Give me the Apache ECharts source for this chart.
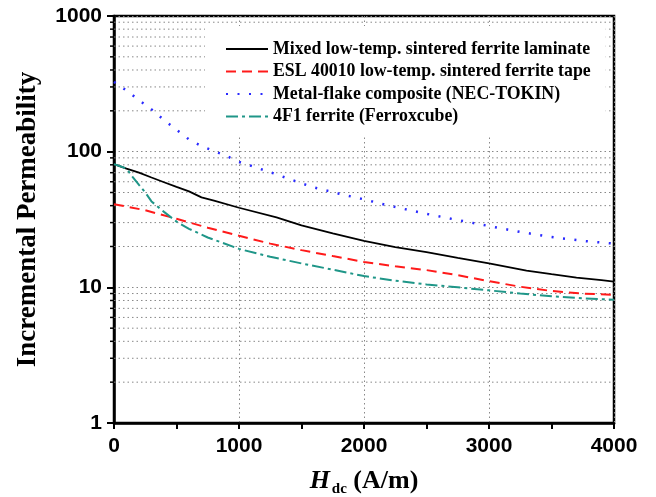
<!DOCTYPE html>
<html>
<head>
<meta charset="utf-8">
<script src="https://cdn.jsdelivr.net/npm/echarts@6/dist/echarts.min.js"></script>
<style>
  html, body { margin: 0; padding: 0; background: #fff; }
  #main { width: 656px; height: 497px; }
</style>
</head>
<body>
<div id="main"></div>
<script>
// H_dc (A/m) -> incremental permeability
var mixedH = [0, 100, 200, 300, 400, 500, 600, 700, 800, 1000, 1300, 1500, 1750, 2000, 2250, 2500, 2750, 3000, 3300, 3500, 3700, 3900, 4000];
var mixedMu = [81, 75, 70, 64.5, 59.5, 55, 51, 46, 43.5, 38.6, 32.8, 28.6, 25, 22, 19.8, 18.2, 16.5, 15, 13.3, 12.5, 11.8, 11.3, 11];

var eslH = [0, 250, 500, 750, 1000, 1250, 1500, 1750, 2000, 2250, 2500, 2750, 3000, 3250, 3500, 3750, 4000];
var eslMu = [41, 37, 32, 27.5, 24, 21, 18.8, 17, 15.4, 14.3, 13.4, 12.3, 11.1, 10.1, 9.4, 9.0, 8.8];

var flakeH = [0, 100, 200, 300, 400, 500, 600, 700, 800, 900, 1000, 1100, 1200, 1300, 1400, 1500, 1600, 1800, 2000, 2200, 2500, 2750, 3000, 3250, 3500, 3750, 4000];
var flakeMu = [327, 282, 240, 205, 171, 145, 123, 110, 101, 93, 84, 78.5, 73, 68, 63, 58.5, 54.5, 49, 44.5, 40, 34.8, 31.3, 28.3, 25.6, 23.5, 22, 21];

var f4H = [0, 50, 100, 150, 200, 250, 300, 400, 500, 600, 750, 1000, 1250, 1500, 1750, 2000, 2250, 2500, 2750, 3000, 3250, 3500, 3750, 4000];
var f4Mu = [81, 78, 75, 65, 57, 50, 43, 36, 30.5, 27, 23.3, 19.2, 16.8, 15, 13.5, 12.1, 11.2, 10.5, 10, 9.5, 9.0, 8.6, 8.3, 8.1];

var seriesNames = [
	"Mixed low-temp. sintered ferrite laminate",
	"ESL 40010 low-temp. sintered ferrite tape",
	"Metal-flake composite (NEC-TOKIN)",
	"4F1 ferrite (Ferroxcube)"
];

// minor log ticks (2..9 in each decade)
var minorTicks = [2, 3, 4, 5, 6, 7, 8, 9, 20, 30, 40, 50, 60, 70, 80, 90, 200, 300, 400, 500, 600, 700, 800, 900];

function pairs(xs, ys){
	var out = [];
	for(var i = 0; i < xs.length; i ++){
		out.push([xs[i], ys[i]]);
	}
	return out;
}

var chart = echarts.init(document.getElementById('main'));
var serif = "'Liberation Serif', 'Times New Roman', serif";
var sans = "'Liberation Sans', Arial, sans-serif";

var option = {
	animation : false,
	grid : {
		left : 114, right : 42, top : 16, bottom : 74,
		outerBoundsMode : "none",
		containLabel : false,
		show : true, borderColor : "#000", borderWidth : 2.5, backgroundColor : "transparent"
	},
	legend : {
		data : seriesNames,
		orient : "vertical",
		left : 205, top : 26,
		padding : [14, 15, 10, 20],
		itemGap : 4.5,
		itemWidth : 42, itemHeight : 14,
		backgroundColor : "#fff",
		itemStyle : { color : "transparent", borderColor : "transparent", borderWidth : 0, opacity : 0 },
		textStyle : { fontFamily : serif, fontWeight : "bold", fontSize : 17.8, color : "#000" }
	},
	xAxis : {
		type : "value",
		min : 0, max : 4000, interval : 1000,
		name : "{h|H}{s|dc}{n| (A/m)}",
		nameLocation : "middle",
		nameGap : 43,
		nameTextStyle : {
			rich : {
				h : { fontFamily : serif, fontStyle : "italic", fontWeight : "bold", fontSize : 26, color : "#000" },
				s : { fontFamily : serif, fontWeight : "bold", fontSize : 15, color : "#000", verticalAlign : "bottom", padding : [16, 0, 0, 2] },
				n : { fontFamily : serif, fontWeight : "bold", fontSize : 26, color : "#000" }
			}
		},
		axisLine : { lineStyle : { color : "#000", width : 2.5 } },
		axisTick : { inside : false, length : 6, lineStyle : { width : 2 } },
		minorTick : { show : true, splitNumber : 2, length : 6, lineStyle : { color : "#000", width : 2 } },
		axisLabel : {
			margin : 13, fontFamily : sans, fontWeight : "bold", fontSize : 21, color : "#000",
			formatter : function(v){ return String(v); }
		},
		splitLine : { show : true, lineStyle : { color : "#888", width : 1, type : [1.5, 3] } }
	},
	yAxis : {
		type : "log",
		logBase : 10,
		min : 1, max : 1000,
		name : "Incremental Permeability",
		nameLocation : "middle",
		nameGap : 72,
		nameTextStyle : { fontFamily : serif, fontWeight : "bold", fontSize : 27, color : "#000" },
		axisLine : { lineStyle : { color : "#000", width : 2.5 } },
		axisTick : { inside : false, length : 7, lineStyle : { width : 2 } },
		axisLabel : {
			margin : 12, fontFamily : sans, fontWeight : "bold", fontSize : 21, color : "#000",
			formatter : function(v){ return String(v); }
		},
		splitLine : { show : true, lineStyle : { color : "#888", width : 1, type : [1.5, 3] } }
	},
	series : [
		{
			name : "minor",
			type : "custom",
			z : 1,
			silent : true,
			data : minorTicks.map(function(v){ return [0, v]; }),
			renderItem : function(params, api){
				var v = api.value(1);
				var a = api.coord([0, v]);
				var b = api.coord([4000, v]);
				return {
					type : "group",
					children : [
						{ type : "line", shape : { x1 : a[0], y1 : a[1], x2 : b[0], y2 : b[1] },
						  style : { stroke : "#888", lineWidth : 1, lineDash : [1.5, 3] } },
						{ type : "line", shape : { x1 : a[0] - 4, y1 : a[1], x2 : a[0], y2 : a[1] },
						  style : { stroke : "#000", lineWidth : 1.5 } }
					]
				};
			}
		},
		{
			name : seriesNames[0], type : "line", symbol : "none", z : 3,
			data : pairs(mixedH, mixedMu),
			lineStyle : { color : "#000", width : 1.8, type : "solid" },
			itemStyle : { color : "#000" }
		},
		{
			name : seriesNames[1], type : "line", symbol : "none", z : 3,
			data : pairs(eslH, eslMu),
			lineStyle : { color : "#ff1a1a", width : 2, type : [10, 6] },
			itemStyle : { color : "#ff1a1a" }
		},
		{
			name : seriesNames[2], type : "line", symbol : "none", z : 3,
			data : pairs(flakeH, flakeMu),
			lineStyle : { color : "#2a2aff", width : 2.5, type : [2, 9.5] },
			itemStyle : { color : "#2a2aff" }
		},
		{
			name : seriesNames[3], type : "line", symbol : "none", z : 3,
			data : pairs(f4H, f4Mu),
			lineStyle : { color : "#1f9688", width : 2, type : [12, 4, 3, 4] },
			itemStyle : { color : "#1f9688" }
		}
	]
};
chart.setOption(option);
</script>
</body>
</html>
